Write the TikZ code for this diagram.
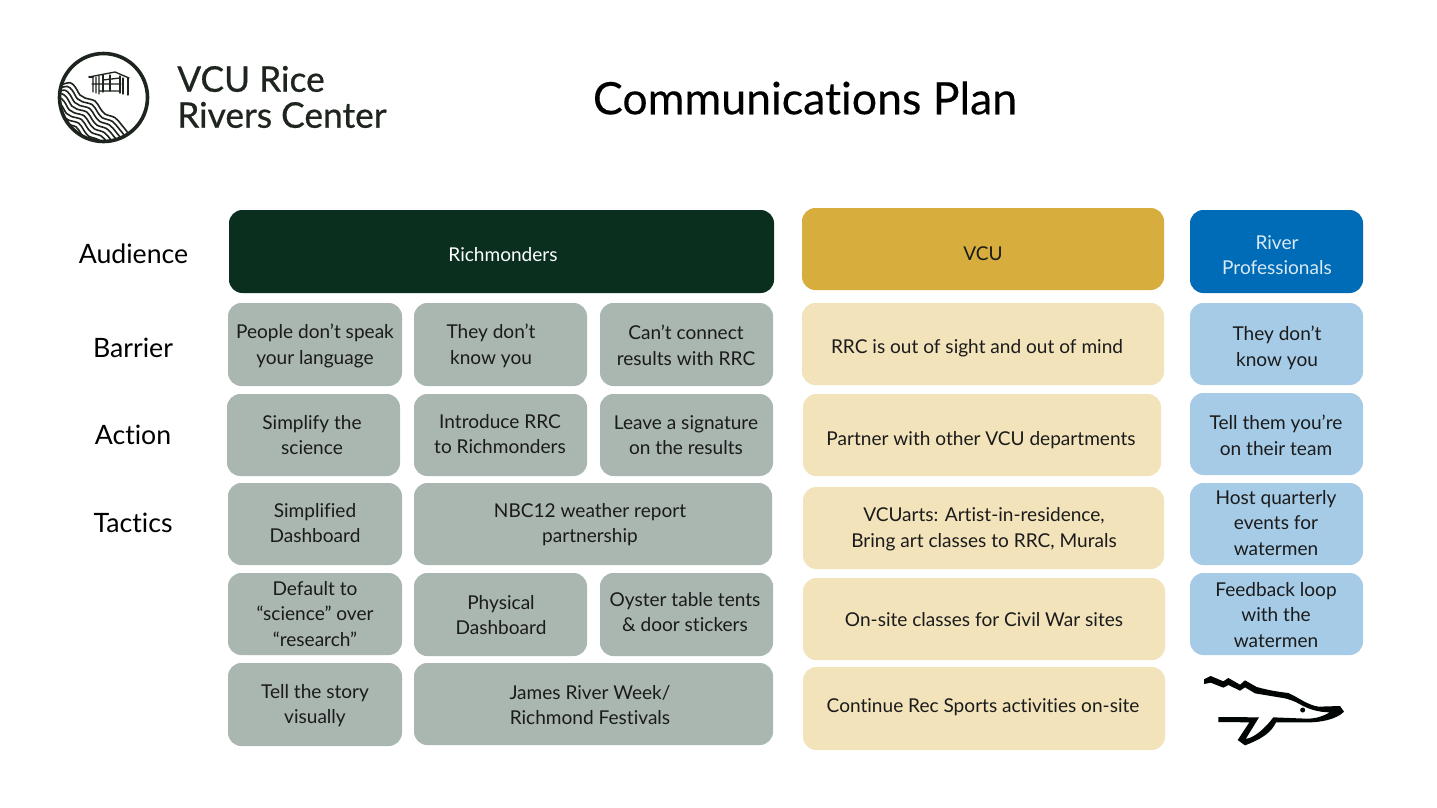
\documentclass[tikz,border=0pt]{standalone}
\usepackage{fontspec}
\setmainfont{Lato}[Ligatures=NoCommon]
\newfontfamily\titlefont{Lato}[FakeBold=0.25,Ligatures=NoCommon]
\newfontfamily\logofont{Lato}[FakeBold=0.6,Ligatures=NoCommon]
\definecolor{ink}{HTML}{1B1B1B}
\definecolor{logoink}{HTML}{1E241E}
\definecolor{darkgreen}{HTML}{0A2F1F}
\definecolor{gold}{HTML}{D7AE3D}
\definecolor{riverblue}{HTML}{006BB6}
\definecolor{sage}{HTML}{A9B7B0}
\definecolor{cream}{HTML}{F2E3BB}
\definecolor{sky}{HTML}{A6CBE7}
\tikzset{
  x=0.75pt,y=-0.75pt,
  card/.style={rounded corners=10pt,inner sep=0pt},
  cardtext/.style={align=center,inner sep=0pt,text=ink,font=\fontsize{14.3}{19.3}\selectfont},
  gcard/.style={card,fill=sage},
  ccard/.style={card,fill=cream},
  bcard/.style={card,fill=sky},
  rowlabel/.style={text=black,font=\fontsize{20}{24}\selectfont,inner sep=0pt},
  logotext/.style={text=logoink,anchor=west,inner sep=0pt,font=\logofont\fontsize{26.5}{30}\selectfont},
  logoline/.style={draw=logoink,line width=1.0pt,line cap=round,line join=round},
}
% name, x0,y0,x1,y1, box style, text centre x, y, text
\newcommand{\bx}[9]{%
  \pgfmathsetmacro{\bw}{(#4-#2)*0.75}%
  \pgfmathsetmacro{\bh}{(#5-#3)*0.75}%
  \node[#6,minimum width=\bw pt,minimum height=\bh pt] (#1) at ({(#2+#4)/2},{(#3+#5)/2}) {};
  \bxtext{#1}{#7}{#8}{#9}}
\newcommand{\bxtext}[4]{\node[cardtext] (#1-text) at (#2,#3) {#4};}
\begin{document}
\begin{tikzpicture}
\useasboundingbox (0,0) rectangle (1437,807);
\fill[white] (0,0) rectangle (1437,807);
% logo
\begin{scope}
\clip (103.5,97.5) circle (44);
\foreach \k in {0,...,12}{
  \draw[logoink,line width=1.2pt,shift={(-2.7*\k,3.7*\k)}]
    plot[smooth,tension=0.6] coordinates {(52,87) (62.7,84.3) (70,82.7) (75,86.7) (80,95) (85,98) (95,101) (100,108) (105,114) (115,117.7) (121.7,125) (128.3,133.3) (134,142)};
}
\end{scope}
\node[circle,draw=logoink,line width=2.7pt,minimum size=66pt,inner sep=0pt] (logoring) at (103.5,97.5) {};
\draw[logoline] (89,77) -- (115,72) -- (129,78);
\draw[logoline] (89,77) -- (93,77) (103,75) -- (103,92) (110,75) -- (110,91) (120,76) -- (120,93) (128,78) -- (128,95) (123,78) -- (123,94);
\draw[logoline] (93,77) -- (93,92) (96,77) -- (96,93) (99,76) -- (99,94) (92,84) -- (121,84) (100,91) -- (120,91) (103,80) -- (120,78);
\node[logotext] (logo1) at (177,79) {VCU Rice};
\node[logotext] (logo2) at (177,115) {Rivers Center};
% title
\node[font=\titlefont\fontsize{33.5}{40}\selectfont,text=black,inner sep=0pt] (title) at (805,98) {Communications Plan};
% row labels
\node[rowlabel] (lAudience) at (133.5,254) {Audience};
\node[rowlabel] (lBarrier) at (133,348) {Barrier};
\node[rowlabel] (lAction) at (133,435) {Action};
\node[rowlabel] (lTactics) at (133,523) {Tactics};
% header
\node[card,fill=darkgreen,minimum width=408.75pt,minimum height=62.25pt] (aRich) at (501.5,251.5) {};
\node[cardtext,text=white] (aRich-text) at (503,255) {Richmonders};
\bx{aVCU}{802}{208}{1164}{290}{card,fill=gold}{983}{254}{VCU}
\node[card,fill=riverblue,minimum width=129.75pt,minimum height=62.25pt] (aRiver) at (1276.5,251.5) {};
\node[cardtext,text=white!85!riverblue] (aRiver-text) at (1277,255) {River\\Professionals};
% barrier
\bx{b1}{228}{303}{402}{386}{gcard}{315}{346}{People don’t speak\\your language}
\bx{b2}{414}{303}{587}{386}{gcard}{491}{346}{They don’t\\know you}
\bx{b3}{600}{303}{773}{386}{gcard}{686}{345}{Can’t connect\\results with RRC}
\bx{b4}{802}{303}{1164}{385}{ccard}{977}{348}{RRC is out of sight and out of mind}
\bx{b5}{1190}{303}{1363}{385}{bcard}{1277}{347.5}{They don’t\\know you}
% action
\bx{c1}{227}{394}{400}{476}{gcard}{312}{435}{Simplify the\\science}
\bx{c2}{414}{394}{587}{476}{gcard}{500}{434}{Introduce RRC\\to Richmonders}
\bx{c3}{600}{394}{773}{476}{gcard}{686}{435}{Leave a signature\\on the results}
\bx{c4}{803}{394}{1161}{476}{ccard}{981}{440}{Partner with other VCU departments}
\bx{c5}{1190}{393}{1363}{475}{bcard}{1276}{435}{Tell them you’re\\on their team}
% tactics
\bx{d1}{228}{483}{402}{565}{gcard}{315}{523}{Simplified\\Dashboard}
\bx{d2}{414}{483}{772}{565}{gcard}{590}{524.5}{NBC12 weather report\\partnership}
\bx{d3}{803}{487}{1164}{569}{ccard}{984}{529.5}{VCUarts: Artist-in-residence,\\Bring art classes to RRC, Murals}
\bx{d4}{1190}{483}{1363}{565}{bcard}{1276}{523}{Host quarterly\\events for\\watermen}
% row five
\bx{e1}{228}{573}{402}{655}{gcard}{315}{614}{Default to\\“science” over\\“research”}
\bx{e2}{414}{573}{587}{656}{gcard}{501}{615}{Physical\\Dashboard}
\bx{e3}{600}{573}{773}{656}{gcard}{685}{612}{Oyster table tents\\\& door stickers}
\bx{e4}{803}{578}{1165}{660}{ccard}{984}{620}{On-site classes for Civil War sites}
\bx{e5}{1190}{573}{1363}{655}{bcard}{1276}{615}{Feedback loop\\with the\\watermen}
% row six
\bx{f1}{228}{663}{402}{746}{gcard}{315}{705.5}{Tell the story\\visually}
\bx{f2}{414}{663}{773}{745}{gcard}{590}{705}{James River Week/\\Richmond Festivals}
\bx{f3}{803}{667}{1165}{750}{ccard}{983}{707}{Continue Rec Sports activities on-site}
% whale
\begin{scope}[shift={(1190,660)},x=0.25pt,y=-0.25pt]
\fill[black!88!darkgreen,line join=round] (42,58) -- (62,48) -- (100,64) -- (115,54) -- (150,74) -- (165,61) -- (200,81) .. controls (240,92) and (270,96) .. (295,99) .. controls (325,112) and (350,134) .. (385,140) -- (450,138) -- (462,155) .. controls (440,178) and (390,188) .. (350,187) -- (258,187) .. controls (245,215) and (220,235) .. (165,256) -- (143,240) -- (178,187) -- (85,186) -- (85,171) -- (207,172) -- (167,237) .. controls (195,232) and (225,205) .. (250,172) -- (350,176) .. controls (380,176) and (400,168) .. (420,157) .. controls (385,157) and (355,147) .. (330,133) .. controls (315,124) and (300,119) .. (285,115) -- (195,100) -- (165,82) -- (150,92) -- (115,75) -- (100,83) -- (62,68) -- (42,72) -- cycle;
\fill[black!88!darkgreen] (338,150) circle (7.5);
\end{scope}
\end{tikzpicture}
\end{document}
